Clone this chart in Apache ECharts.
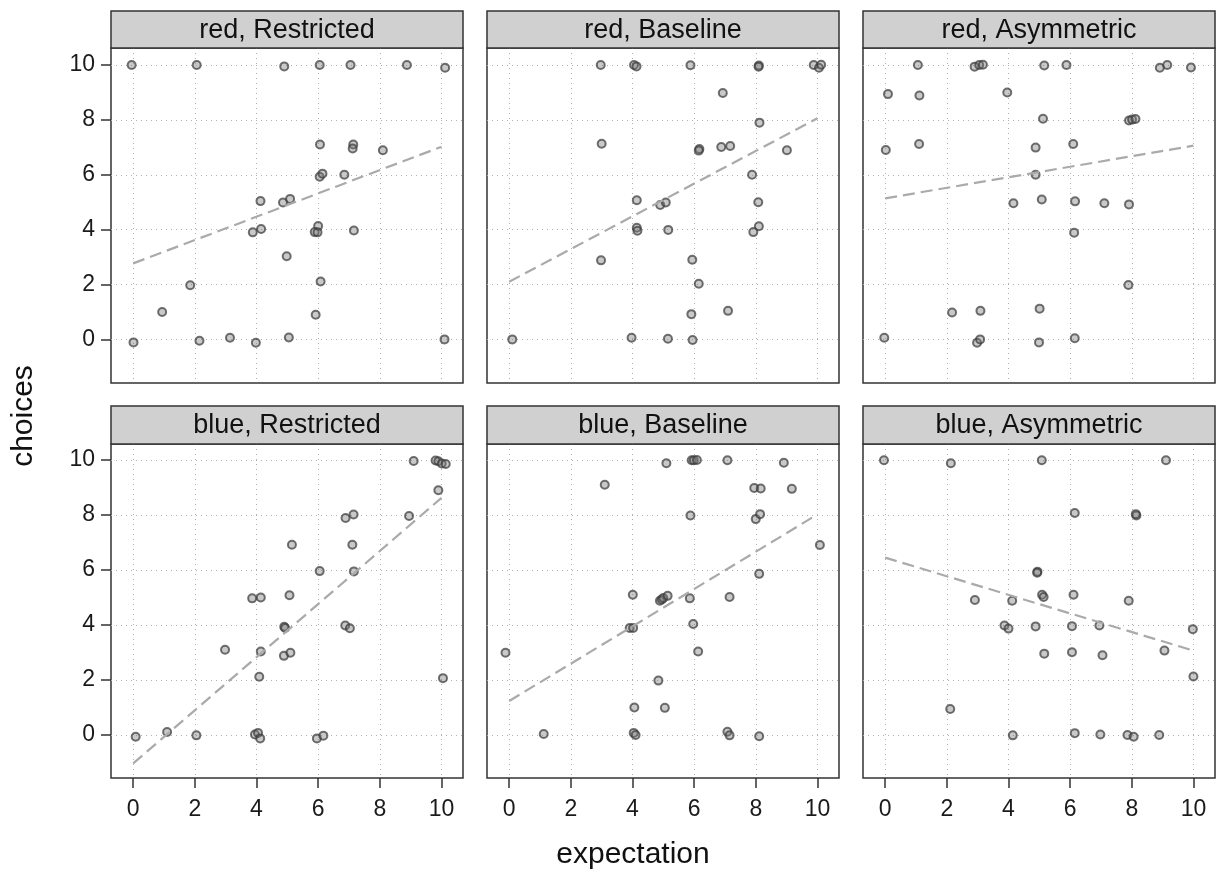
<!DOCTYPE html>
<html>
<head>
<meta charset="utf-8">
<script src="https://cdn.jsdelivr.net/npm/echarts@6/dist/echarts.min.js"></script>
<style>
html,body{margin:0;padding:0;background:#fff;}
#chart{width:1219px;height:875px;}
</style>
</head>
<body>
<div id="chart"></div>
<script>
// ---- data ----
const panelTitles = ['red, Restricted', 'red, Baseline', 'red, Asymmetric',
                     'blue, Restricted', 'blue, Baseline', 'blue, Asymmetric'];
const tickValues = [0, 2, 4, 6, 8, 10];

const redRestrictedX = [-0.05,2.06,4.9,6.05,7.05,8.88,10.12,6.06,7.14,7.12,8.1,6.05,6.14,6.85,4.13,4.86,5.09,3.88,4.15,6.0,5.89,5.98,7.16,4.98,1.85,6.08,0.94,5.92,0.01,2.15,3.14,3.98,5.05,10.1];
const redRestrictedY = [10,10,9.95,10,10,10,9.9,7.1,7.1,6.96,6.89,5.93,6.04,6.0,5.04,4.99,5.12,3.9,4.02,4.13,3.91,3.9,3.97,3.03,1.97,2.11,1.0,0.9,-0.11,-0.05,0.06,-0.12,0.07,0.0];

const redBaselineX = [2.97,4.05,4.13,5.88,8.1,8.09,9.88,10.05,10.12,6.93,8.12,3.0,6.17,6.15,6.88,7.17,9.01,7.88,4.14,4.9,5.08,8.08,4.14,4.16,5.16,8.1,7.92,2.98,5.94,6.15,5.91,7.1,0.1,3.97,5.15,5.95];
const redBaselineY = [10,10,9.95,9.99,9.98,9.94,10,9.9,10.01,8.98,7.9,7.13,6.94,6.88,7.01,7.05,6.89,6.0,5.07,4.9,4.99,5.0,4.07,3.96,3.99,4.12,3.91,2.88,2.9,2.03,0.92,1.04,0.0,0.06,0.02,-0.02];

const redAsymmetricX = [1.06,2.9,3.05,3.17,5.16,5.88,8.91,9.15,9.92,0.09,1.11,3.96,5.12,7.91,8.01,8.12,0.02,1.1,4.88,6.1,4.88,4.16,5.08,6.16,7.11,7.91,6.13,7.89,2.17,3.09,5.01,-0.03,2.98,3.08,4.99,6.15];
const redAsymmetricY = [10,9.94,10,10.01,9.98,10,9.9,10,9.91,8.94,8.89,9.0,8.04,7.98,8.01,8.03,6.9,7.12,6.99,7.12,6.0,4.96,5.1,5.03,4.96,4.92,3.89,1.98,0.98,1.04,1.12,0.06,-0.12,0.0,-0.11,0.04];

const blueRestrictedX = [9.1,9.81,9.9,10.01,10.14,9.9,8.95,6.89,7.15,5.15,7.11,6.05,7.16,3.86,4.14,5.07,4.9,4.93,6.88,7.03,2.98,4.14,4.89,5.1,4.09,10.05,0.08,1.1,2.05,3.95,4.05,4.12,5.96,6.17];
const blueRestrictedY = [9.96,9.98,9.95,9.87,9.85,8.9,7.96,7.89,8.02,6.92,6.92,5.96,5.95,4.97,5.0,5.08,3.94,3.89,3.98,3.88,3.1,3.04,2.88,2.99,2.12,2.07,-0.06,0.11,-0.01,0.02,0.08,-0.12,-0.12,-0.02];

const blueBaselineX = [5.1,5.92,5.99,6.09,7.08,8.91,3.1,7.95,8.16,9.17,5.88,8.0,8.14,10.08,8.11,4.01,4.89,4.95,5.0,5.14,5.86,7.15,3.91,4.02,5.97,6.13,-0.12,4.84,4.06,5.05,1.12,4.04,4.1,7.08,7.15,8.11];
const blueBaselineY = [9.88,9.99,9.99,10,9.99,9.9,9.1,8.98,8.96,8.95,7.98,7.85,8.03,6.91,5.86,5.1,4.88,4.93,4.98,5.06,4.97,5.02,3.89,3.89,4.04,3.04,2.99,1.98,1.0,0.99,0.04,0.08,0.0,0.12,-0.01,-0.04];

const blueAsymmetricX = [-0.04,2.13,5.08,9.11,6.15,8.15,8.13,4.94,4.93,2.91,4.12,5.09,5.14,6.11,7.9,3.87,4.0,4.88,6.06,6.95,9.98,5.16,6.06,7.05,9.06,10.0,2.11,4.14,6.15,6.98,7.86,8.06,8.89];
const blueAsymmetricY = [9.99,9.88,9.99,9.99,8.07,7.98,8.03,5.94,5.9,4.91,4.88,5.1,5.02,5.1,4.88,3.98,3.87,3.95,3.96,3.98,3.85,2.96,3.01,2.9,3.07,2.13,0.95,-0.01,0.07,0.02,0.0,-0.06,0.0];

// regression lines: value at x = 0 and at x = 10
const lineX = [0, 10];
const lineAtX0 = [2.77, 2.10, 5.14, -1.03, 1.24, 6.45];
const lineAtX10 = [7.02, 8.06, 7.06, 8.62, 8.02, 3.07];

const panelXs = [redRestrictedX, redBaselineX, redAsymmetricX, blueRestrictedX, blueBaselineX, blueAsymmetricX];
const panelYs = [redRestrictedY, redBaselineY, redAsymmetricY, blueRestrictedY, blueBaselineY, blueAsymmetricY];

// ---- layout ----
const FONT = '"Liberation Sans", Arial, sans-serif';
const colLeft = [111, 487, 863];
const panelW = 352;
const rowTop = [48, 444];
const rowH = [335, 334];
const stripTop = [11, 406];
const yRange = [[-1.59, 10.62], [-1.56, 10.58]];
const xRange = [-0.72, 10.70];

const grids = [], xAxes = [], yAxes = [], series = [], graphics = [];

for (let i = 0; i < 6; i++) {
  const r = Math.floor(i / 3), c = i % 3;
  grids.push({
    left: colLeft[c], top: rowTop[r], width: panelW, height: rowH[r],
    show: true, borderColor: '#333', borderWidth: 1.5, backgroundColor: '#fff'
  });
  const bottomRow = r === 1, leftCol = c === 0;
  xAxes.push({
    gridIndex: i, type: 'value', min: xRange[0], max: xRange[1], position: 'bottom',
    axisLine: { show: false, onZero: false },
    axisTick: { show: bottomRow, inside: false, length: 10, customValues: tickValues, lineStyle: { color: '#333', width: 1.5 } },
    axisLabel: { show: bottomRow, customValues: tickValues, fontSize: 23, color: '#1a1a1a', margin: 20, fontFamily: FONT },
    splitLine: { show: true, lineStyle: { color: '#b0b0b0', width: 1, type: [1, 4] } }
  });
  yAxes.push({
    gridIndex: i, type: 'value', min: yRange[r][0], max: yRange[r][1], position: 'left',
    axisLine: { show: false, onZero: false },
    axisTick: { show: leftCol, inside: false, length: 10, customValues: tickValues, lineStyle: { color: '#333', width: 1.5 } },
    axisLabel: { show: leftCol, customValues: tickValues, fontSize: 23, color: '#1a1a1a', margin: 16, fontFamily: FONT },
    splitLine: { show: true, lineStyle: { color: '#b0b0b0', width: 1, type: [1, 4] } }
  });
  series.push({
    type: 'scatter', xAxisIndex: i, yAxisIndex: i,
    data: panelXs[i].map((x, k) => [x, panelYs[i][k]]),
    symbol: 'circle', symbolSize: 8,
    itemStyle: { color: 'rgba(120,120,120,0.5)', borderColor: 'rgba(60,60,60,0.9)', borderWidth: 2 },
    silent: true, z: 3
  });
  series.push({
    type: 'line', xAxisIndex: i, yAxisIndex: i,
    data: [[lineX[0], lineAtX0[i]], [lineX[1], lineAtX10[i]]],
    showSymbol: false, symbol: 'none',
    lineStyle: { color: '#aaaaaa', width: 2.2, type: [12, 6] },
    silent: true, z: 4
  });
  const sh = rowTop[r] - stripTop[r];
  graphics.push({
    type: 'rect', z: 10,
    shape: { x: colLeft[c], y: stripTop[r], width: panelW, height: sh },
    style: { fill: '#d0d0d0', stroke: '#333', lineWidth: 1.5 }
  });
  graphics.push({
    type: 'text', z: 11,
    style: {
      text: panelTitles[i], x: colLeft[c] + panelW / 2, y: stripTop[r] + sh / 2 + 1,
      textAlign: 'center', textVerticalAlign: 'middle',
      font: '27px ' + FONT, fill: '#111'
    }
  });
}

graphics.push({
  type: 'text', z: 11,
  style: { text: 'expectation', x: 633, y: 855, textAlign: 'center', textVerticalAlign: 'middle', font: '30px ' + FONT, fill: '#111' }
});
graphics.push({
  type: 'text', z: 11, x: 24, y: 416, rotation: Math.PI / 2,
  style: { text: 'choices', x: 0, y: 0, textAlign: 'center', textVerticalAlign: 'middle', font: '30px ' + FONT, fill: '#111' }
});

const chart = echarts.init(document.getElementById('chart'), null, { renderer: 'canvas' });
chart.setOption({
  backgroundColor: '#fff',
  animation: false,
  grid: grids, xAxis: xAxes, yAxis: yAxes, series: series,
  graphic: graphics
});
</script>
</body>
</html>
